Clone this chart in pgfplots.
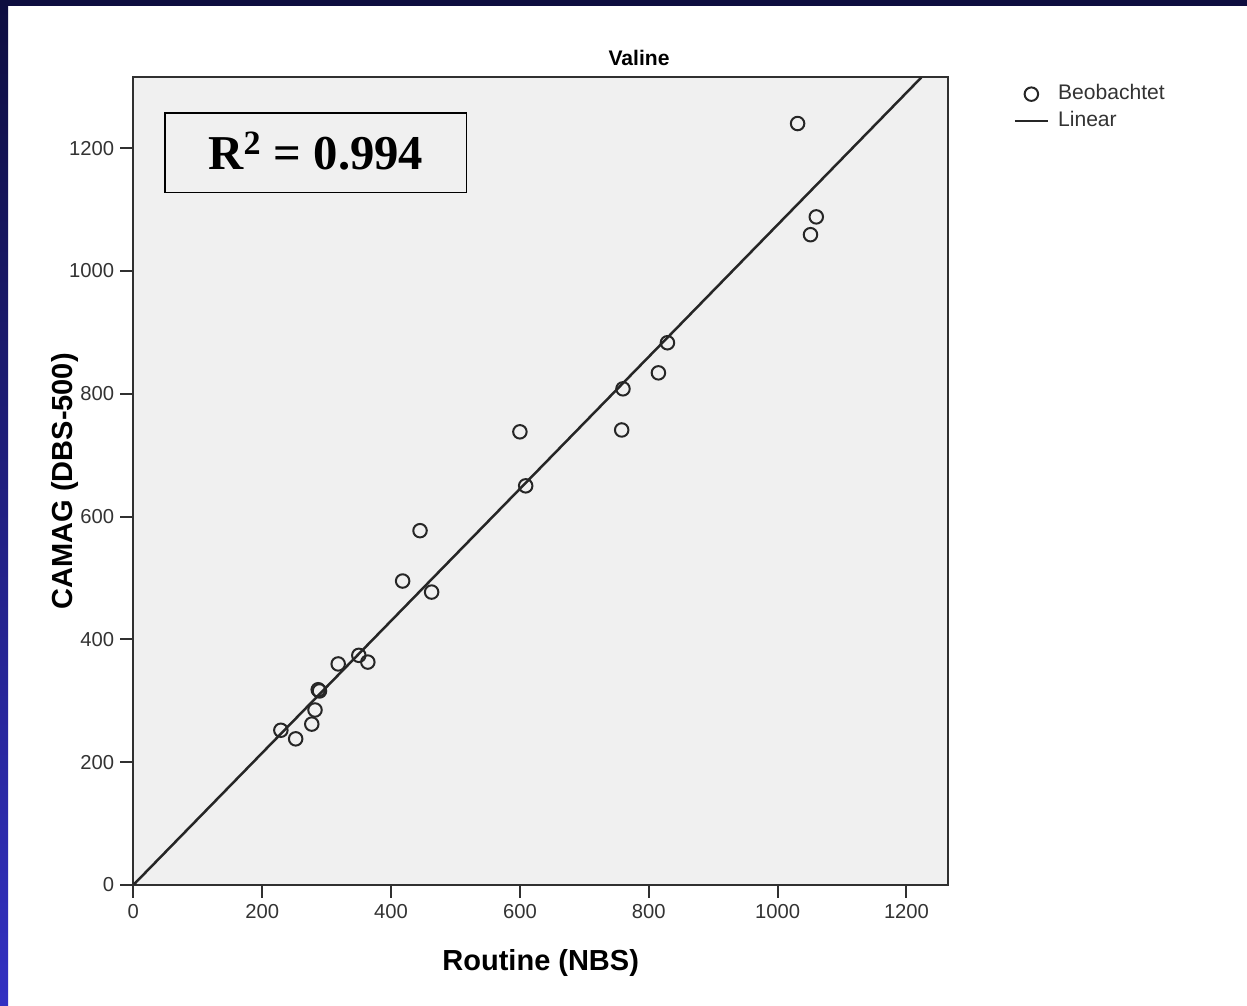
\documentclass[border=0pt]{standalone}
\usepackage{fontspec}
\setmainfont{Liberation Sans}
\newfontfamily\timesbf{Liberation Serif}
\usepackage{pgfplots}
\pgfplotsset{compat=1.18}
\definecolor{navy}{HTML}{0E0E40}
\definecolor{brightblue}{HTML}{3230C2}
\definecolor{plotbg}{HTML}{F0F0F0}
\definecolor{frame}{HTML}{303030}
\definecolor{tick}{HTML}{333333}
\pgfplotsset{
  markleg/.style={legend image code/.code={\path (0mm,0mm) (6.6mm,0mm);
    \draw[##1] plot coordinates {(3.3mm,0mm)};}},
  lineleg/.style={legend image code/.code={\draw[##1] (0mm,0mm) -- (6.6mm,0mm);}},
}

\begin{document}
\begin{tikzpicture}
% page: 1247 x 1006 px, 1 px = 0.2 mm
\useasboundingbox (0,0) rectangle (249.4mm,201.2mm);
\fill[white] (0,0) rectangle (249.4mm,201.2mm);
\shade[top color=navy, bottom color=brightblue] (0,0) rectangle (1.6mm,201.2mm);
\fill[navy] (0,200mm) rectangle (249.4mm,201.2mm);

\begin{axis}[
  at={(26.66mm,24.2mm)}, anchor=south west,
  scale only axis, width=162.96mm, height=161.5mm,
  xmin=0, xmax=1264.6, ymin=0, ymax=1315,
  xtick={0,200,...,1200}, ytick={0,200,...,1200},
  tick align=outside, xtick pos=bottom, ytick pos=left,
  major tick length=2.6mm,
  axis background/.style={fill=plotbg},
  axis line style={draw=frame, line width=0.4mm},
  tick style={draw=frame, line width=0.4mm},
  tick label style={font=\fontsize{11.5}{12}\selectfont, text=tick},
  /pgf/number format/assume math mode=true,
  /pgf/number format/1000 sep={},
  xlabel={Routine (NBS)},
  ylabel={CAMAG (DBS-500)},
  label style={font=\bfseries\fontsize{16.5}{18}\selectfont},
  xlabel style={at={(axis description cs:0.5,-0.1053)}, anchor=base},
  ylabel style={at={(axis description cs:-0.0752,0.5)}, anchor=base},
  legend style={at={(1.0735,0.9956)}, anchor=north west, draw=none, fill=none,
    font=\fontsize{12}{12}\selectfont, text=tick,
    nodes={inner sep=0pt, text height=2.9mm, text depth=0.8mm, anchor=west},
    row sep=1.7mm, column sep=1.8mm},
  legend cell align=left,
]
\addplot[only marks, mark=o, mark size=1.35mm,
  mark options={line width=0.4mm, draw=black!85}, markleg]
  coordinates {
  (229,252) (252,238) (277,262) (282,285) (287,318) (289,316)
  (318,360) (350,374) (364,363) (418,495) (445,577) (463,477)
  (600,738) (609,650) (758,741) (760,808) (815,834) (829,883)
  (1031,1240) (1060,1088) (1051,1059)
  };
\addplot[black!85, line width=0.5mm, lineleg]
  coordinates {(0,0) (1223,1315)};
\legend{Beobachtet, Linear}
\end{axis}

% R^2 annotation box
\draw[black, line width=0.3mm] (33mm,162.66mm) rectangle (93.34mm,178.6mm);
\node[anchor=base, inner sep=0pt, font=\timesbf\bfseries\fontsize{27.7}{30}\selectfont]
  at (63.17mm,167.2mm) {R\textsuperscript{2} = 0.994};
% title
\node[anchor=base, inner sep=0pt, font=\bfseries\fontsize{12}{14}\selectfont]
  at (127.8mm,188mm) {Valine};
\end{tikzpicture}
\end{document}
